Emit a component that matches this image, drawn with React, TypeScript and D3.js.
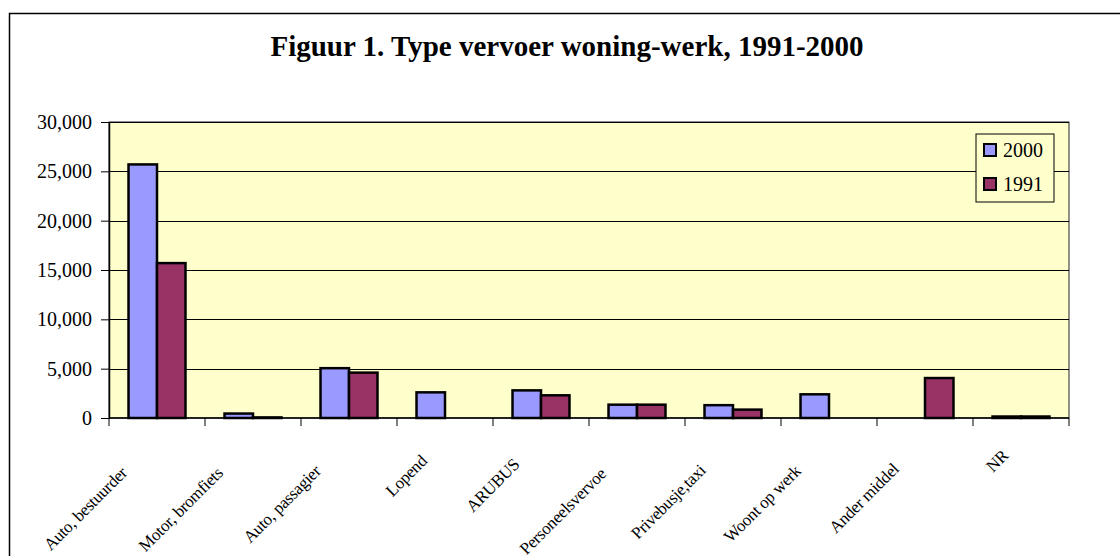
import { useEffect, useRef } from "react";
import * as d3 from "d3";

const categories = [
  "Auto, bestuurder",
  "Motor, bromfiets",
  "Auto, passagier",
  "Lopend",
  "ARUBUS",
  "Personeelsvervoe",
  "Privebusje,taxi",
  "Woont op werk",
  "Ander middel",
  "NR",
];
const values2000 = [25700, 450, 5050, 2600, 2800, 1350, 1300, 2400, 0, 150];
const values1991 = [15700, 60, 4600, 0, 2300, 1350, 850, 0, 4050, 150];
const seriesNames = ["2000", "1991"];
const seriesColors = ["#9999FF", "#993366"];
const yTicks = [0, 5000, 10000, 15000, 20000, 25000, 30000];
const title = "Figuur 1. Type vervoer woning-werk, 1991-2000";

const FONT = "'Liberation Serif', 'Times New Roman', serif";

const App = () => {
  const svgRef = useRef<SVGSVGElement>(null);
  const width = 1120;
  const height = 556;

  useEffect(() => {
    const margin = { top: 122, right: 51, bottom: 138, left: 109 };
    const plotW = width - margin.left - margin.right;
    const plotH = height - margin.top - margin.bottom;

    const svg = d3.select(svgRef.current);
    svg.selectAll("*").remove();

    // outer chart border (runs off the page on the right and bottom)
    svg.append("rect")
      .attr("x", 9.5).attr("y", 13.5)
      .attr("width", 1200).attr("height", 700)
      .attr("fill", "#fff").attr("stroke", "#000").attr("stroke-width", 1.5);

    svg.append("text")
      .attr("x", 567).attr("y", 56)
      .attr("text-anchor", "middle")
      .attr("font-family", FONT).attr("font-weight", "bold")
      .attr("font-size", 29)
      .text(title);

    const g = svg.append("g")
      .attr("transform", `translate(${margin.left},${margin.top})`);

    const x = d3.scaleBand<string>().domain(categories).range([0, plotW]);
    const barW = x.bandwidth() / 3.37;
    const x1 = d3.scaleBand<string>().domain(seriesNames)
      .range([(x.bandwidth() - 2 * barW) / 2, (x.bandwidth() + 2 * barW) / 2]);
    const y = d3.scaleLinear().domain([0, 30000]).range([plotH, 0]);

    // plot area
    g.append("rect")
      .attr("width", plotW).attr("height", plotH)
      .attr("fill", "#FFFFCC").attr("stroke", "#222").attr("stroke-width", 1);

    // gridlines
    g.selectAll("line.grid")
      .data(yTicks.filter(t => t > 0))
      .enter().append("line")
      .attr("class", "grid")
      .attr("x1", 0).attr("x2", plotW)
      .attr("y1", d => Math.round(y(d)) + 0.5).attr("y2", d => Math.round(y(d)) + 0.5)
      .attr("stroke", "#000").attr("stroke-width", 1);

    // bars
    const series = [values2000, values1991];
    series.forEach((vals, si) => {
      g.selectAll(`rect.s${si}`)
        .data(categories.map((c, i) => ({ c, v: vals[i] })).filter(d => d.v > 0))
        .enter().append("rect")
        .attr("class", `s${si}`)
        .attr("x", d => (x(d.c) as number) + (x1(seriesNames[si]) as number))
        .attr("y", d => y(d.v))
        .attr("width", barW)
        .attr("height", d => y(0) - y(d.v))
        .attr("fill", seriesColors[si])
        .attr("stroke", "#000").attr("stroke-width", 2.5);
    });

    // y axis
    const yAxis = g.append("g")
      .call(d3.axisLeft(y).tickValues(yTicks).tickSize(8).tickSizeOuter(0)
        .tickFormat(d => d3.format(",")(d as number)));
    yAxis.select(".domain").attr("stroke", "#000").attr("stroke-width", 1.5);
    yAxis.selectAll(".tick line").attr("stroke", "#000");
    yAxis.selectAll(".tick text")
      .attr("font-family", FONT).attr("font-size", 20).attr("fill", "#000")
      .attr("x", -17).attr("dy", "0.32em");

    // x axis
    g.append("line")
      .attr("x1", 0).attr("x2", plotW)
      .attr("y1", plotH).attr("y2", plotH)
      .attr("stroke", "#000").attr("stroke-width", 1.5);
    const bounds = categories.map(c => x(c) as number).concat([plotW]);
    g.selectAll("line.xtick")
      .data(bounds)
      .enter().append("line")
      .attr("class", "xtick")
      .attr("x1", d => d).attr("x2", d => d)
      .attr("y1", plotH).attr("y2", plotH + 8)
      .attr("stroke", "#000").attr("stroke-width", 1);

    // rotated category labels
    const labels = g.selectAll("text.xlab")
      .data(categories)
      .enter().append("text")
      .attr("class", "xlab")
      .attr("font-family", FONT).attr("font-size", 17)
      .attr("letter-spacing", "-0.3")
      .attr("text-anchor", "end")
      .text(d => d);
    labels.each(function (d) {
      const el = this as SVGTextElement;
      const len = el.getComputedTextLength();
      const cx = (x(d) as number) + x.bandwidth() / 2;
      d3.select(el)
        .attr("transform", `translate(${cx - 7},${plotH + 34}) rotate(-45)`)
        .attr("x", -0.283 * len);
    });

    // legend
    const lg = svg.append("g").attr("transform", "translate(976,134)");
    lg.append("rect")
      .attr("width", 78).attr("height", 68)
      .attr("fill", "#FFFFCC").attr("stroke", "#000").attr("stroke-width", 1);
    seriesNames.forEach((name, i) => {
      lg.append("rect")
        .attr("x", 8).attr("y", 10 + i * 34)
        .attr("width", 12).attr("height", 12)
        .attr("fill", seriesColors[i])
        .attr("stroke", "#000").attr("stroke-width", 2);
      lg.append("text")
        .attr("x", 27).attr("y", 23 + i * 34)
        .attr("font-family", FONT).attr("font-size", 20)
        .text(name);
    });
  }, []);

  return (
    <svg
      ref={svgRef}
      width={width}
      height={height}
      style={{ position: "absolute", left: 0, top: 0, background: "#fff" }}
    ></svg>
  );
};

export default App;
